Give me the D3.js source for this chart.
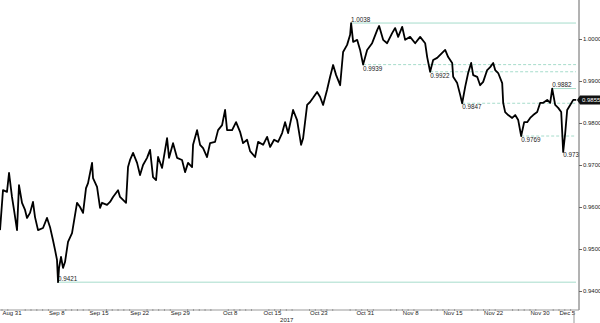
<!DOCTYPE html>
<html>
<head>
<meta charset="utf-8">
<script src="https://cdn.jsdelivr.net/npm/d3@7"></script>
<style>
  body { margin: 0; background: #fff; }
  svg { display: block; }
  text { font-family: "Liberation Sans", Arial, sans-serif; }
</style>
</head>
<body>
<svg id="chart" width="600" height="323"></svg>
<script>
// rate, days counted from Aug 31 2017
const dayOffset = [
  -0.34, 0.17, 0.86, 1.21, 1.72, 2.07, 2.59, 2.93, 3.45, 3.97, 4.31, 4.83, 5.34, 5.69, 6.21, 7.07,
  7.76, 8.28, 8.79, 9.14, 9.48, 9.66, 9.83, 10.17, 10.52, 10.86, 11.38, 12.07, 12.93, 13.45, 13.97, 14.48,
  14.83, 15.52, 15.69, 16.38, 16.90, 17.24, 18.10, 18.62, 19.14, 20.00, 20.34, 20.86, 21.38, 21.72, 22.07, 22.59,
  23.28, 23.79, 24.31, 25.00, 25.52, 26.03, 26.55, 26.90, 27.59, 28.45, 28.79, 29.48, 30.17, 31.03, 31.55, 32.07,
  32.76, 32.93, 33.62, 34.14, 34.66, 35.34, 35.86, 36.72, 37.24, 37.93, 38.45, 38.79, 39.66, 40.34, 41.03, 41.55,
  42.24, 42.76, 43.62, 44.14, 45.00, 45.69, 46.21, 46.90, 47.59, 48.28, 48.79, 49.31, 50.17, 50.86, 51.55, 51.90,
  52.59, 53.10, 53.62, 54.31, 54.83, 55.34, 56.03, 56.55, 57.07, 57.59, 58.28, 58.79, 59.48, 60.00, 60.17, 60.52,
  61.21, 61.72, 62.24, 62.93, 63.79, 64.66, 65.00, 65.69, 66.38, 67.24, 67.76, 68.28, 68.97, 69.48, 70.34, 71.21,
  72.07, 72.93, 73.28, 73.79, 74.31, 75.00, 75.86, 76.38, 76.90, 77.59, 77.76, 78.45, 78.97, 79.31, 79.83, 80.34,
  80.86, 81.21, 81.90, 82.41, 82.93, 83.62, 84.14, 84.66, 85.00, 85.52, 86.21, 86.38, 86.72, 87.24, 87.93, 88.45,
  88.97, 89.48, 90.00, 90.52, 91.03, 91.55, 92.24, 92.76, 93.28, 93.97, 94.48, 94.83, 95.34, 95.86, 96.38, 96.72,
  97.07, 97.41, 97.93, 98.45, 98.97
];
const rate = [
  0.9545, 0.9640, 0.9636, 0.9681, 0.9624, 0.9593, 0.9545, 0.9652, 0.9610, 0.9593, 0.9574, 0.9586, 0.9612, 0.9576, 0.9545, 0.9550,
  0.9574, 0.9552, 0.9521, 0.9498, 0.9474, 0.9421, 0.9455, 0.9481, 0.9455, 0.9469, 0.9517, 0.9538, 0.9610, 0.9600, 0.9586, 0.9645,
  0.9657, 0.9705, 0.9669, 0.9648, 0.9598, 0.9610, 0.9605, 0.9612, 0.9624, 0.9640, 0.9624, 0.9617, 0.9610, 0.9695, 0.9712, 0.9729,
  0.9705, 0.9676, 0.9700, 0.9717, 0.9736, 0.9671, 0.9664, 0.9719, 0.9693, 0.9764, 0.9717, 0.9752, 0.9717, 0.9712, 0.9683, 0.9705,
  0.9695, 0.9748, 0.9783, 0.9748, 0.9740, 0.9719, 0.9752, 0.9755, 0.9783, 0.9795, 0.9831, 0.9783, 0.9783, 0.9802, 0.9779, 0.9752,
  0.9760, 0.9733, 0.9719, 0.9755, 0.9748, 0.9767, 0.9743, 0.9760, 0.9755, 0.9776, 0.9802, 0.9776, 0.9831, 0.9807, 0.9748, 0.9764,
  0.9843, 0.9850, 0.9860, 0.9874, 0.9862, 0.9843, 0.9879, 0.9910, 0.9938, 0.9914, 0.9890, 0.9969, 0.9986, 1.0010, 1.0038, 0.9993,
  0.9998, 0.9974, 0.9939, 0.9974, 0.9990, 1.0021, 1.0031, 0.9998, 0.9990, 1.0014, 1.0026, 1.0005, 1.0029, 0.9998, 1.0005, 0.9990,
  1.0005, 0.9990, 0.9957, 0.9922, 0.9950, 0.9955, 0.9967, 0.9974, 0.9957, 0.9943, 0.9910, 0.9895, 0.9867, 0.9847, 0.9886, 0.9919,
  0.9943, 0.9914, 0.9910, 0.9890, 0.9898, 0.9926, 0.9933, 0.9943, 0.9926, 0.9919, 0.9895, 0.9848, 0.9826, 0.9819, 0.9812, 0.9819,
  0.9807, 0.9769, 0.9802, 0.9802, 0.9812, 0.9819, 0.9826, 0.9848, 0.9848, 0.9855, 0.9848, 0.9882, 0.9843, 0.9836, 0.9826, 0.9731,
  0.9776, 0.9831, 0.9843, 0.9855, 0.9855
];

const tickDates = ["2017-08-31", "2017-09-08", "2017-09-15", "2017-09-22", "2017-09-29", "2017-10-08", "2017-10-15",
  "2017-10-23", "2017-10-31", "2017-11-08", "2017-11-15", "2017-11-22", "2017-11-30", "2017-12-05"];
const yTicks = [0.94, 0.95, 0.96, 0.97, 0.98, 0.99, 1.00];

// marked highs and lows
const levelValues = [1.0038, 0.9939, 0.9922, 0.9847, 0.9769, 0.9882, 0.9731, 0.9421];
const levelText = ["1.0038", "0.9939", "0.9922", "0.9847", "0.9769", "0.9882", "0.973", "0.9421"];
const lastValue = 0.9855;

const svg = d3.select('#chart');
const base = Date.UTC(2017, 7, 31);
const parse = d3.utcParse('%Y-%m-%d');
const data = dayOffset.map((d, i) => ({ date: new Date(base + d * 864e5), value: rate[i] }));

const axisX = 579, axisY = 310;
const x = d3.scaleUtc().domain([parse('2017-08-31'), parse('2017-12-05')]).range([2, 559]);
const y = d3.scaleLinear().domain([0.94, 1.0]).range([291, 39]);
const teal = '#a6dccb';

// level lines + labels
const lineStyle = {
  '1.0038': { dash: null, dy: -1.5 },
  '0.9939': { dash: '3,2', dy: 6 },
  '0.9922': { dash: '3,2', dy: 6 },
  '0.9847': { dash: '3,2', dy: 6 },
  '0.9769': { dash: '3,2', dy: 6 },
  '0.9882': { dash: null, dy: -1.5 },
  '0.973': { none: true, dy: 5.5 },
  '0.9421': { dash: null, dy: -1.5 }
};

const g = svg.append('g');
levelValues.forEach((v, i) => {
  const pt = data.filter(d => d.value === v).pop();
  const st = lineStyle[levelText[i]];
  const x0 = x(pt.date);
  if (!st.none) {
    g.append('line')
      .attr('x1', x0).attr('x2', 576)
      .attr('y1', y(v)).attr('y2', y(v))
      .attr('stroke', teal).attr('stroke-width', 1)
      .attr('stroke-dasharray', st.dash);
  }
  g.append('text')
    .attr('x', x0).attr('y', y(v) + st.dy)
    .attr('font-size', 6.3).attr('fill', '#222')
    .text(levelText[i]);
});

// price line
svg.append('clipPath').attr('id', 'clip')
  .append('rect').attr('x', 0).attr('y', 0).attr('width', axisX - 1).attr('height', axisY);

svg.append('path')
  .datum(data)
  .attr('clip-path', 'url(#clip)')
  .attr('fill', 'none')
  .attr('stroke', '#000')
  .attr('stroke-width', 1.8)
  .attr('stroke-linejoin', 'round')
  .attr('d', d3.line().x(d => x(d.date)).y(d => y(d.value)));

// right axis
svg.append('line')
  .attr('x1', axisX).attr('x2', axisX).attr('y1', 0).attr('y2', axisY)
  .attr('stroke', '#666').attr('stroke-width', 1);

const yAxis = svg.append('g')
  .attr('transform', `translate(${axisX},0)`)
  .call(d3.axisRight(y).tickValues(yTicks).tickFormat(d3.format('.4f')).tickSize(3).tickPadding(1));
yAxis.select('.domain').remove();
yAxis.selectAll('line').attr('stroke', '#666');
yAxis.selectAll('text').attr('font-size', 6).attr('fill', '#222').attr('font-family', null);

// last value box
const ly = y(lastValue);
svg.append('path')
  .attr('d', `M${axisX - 2},${ly} L${axisX + 1},${ly - 4.5} L600,${ly - 4.5} L600,${ly + 4.5} L${axisX + 1},${ly + 4.5} Z`)
  .attr('fill', '#111');
svg.append('text')
  .attr('x', axisX + 3).attr('y', ly + 2.2)
  .attr('font-size', 6).attr('fill', '#fff')
  .text(d3.format('.4f')(lastValue));

// bottom axis
svg.append('line')
  .attr('x1', 0).attr('x2', axisX).attr('y1', axisY).attr('y2', axisY)
  .attr('stroke', '#999').attr('stroke-width', 1);

const weekdays = d3.utcDay.range(parse('2017-08-28'), parse('2017-12-08'))
  .filter(d => d.getUTCDay() > 0 && d.getUTCDay() < 6);
svg.append('g').selectAll('line').data(weekdays).join('line')
  .attr('x1', d => x(d)).attr('x2', d => x(d))
  .attr('y1', axisY - 1).attr('y2', axisY + 1)
  .attr('stroke', '#999');

const xAxis = svg.append('g')
  .attr('transform', `translate(0,${axisY})`)
  .call(d3.axisBottom(x).tickValues(tickDates.map(parse)).tickFormat(d3.utcFormat('%b %-d')).tickSize(0).tickPadding(1));
xAxis.select('.domain').remove();
xAxis.selectAll('text')
  .attr('text-anchor', 'start')
  .attr('font-size', 6).attr('fill', '#222').attr('font-family', null);

svg.append('text')
  .attr('x', x(parse('2017-10-15')) + 17).attr('y', 322)
  .attr('font-size', 6).attr('fill', '#222')
  .text('2017');

svg.append('line')
  .attr('x1', 574).attr('x2', 574).attr('y1', axisY + 1).attr('y2', 323)
  .attr('stroke', '#999');
</script>
</body>
</html>
